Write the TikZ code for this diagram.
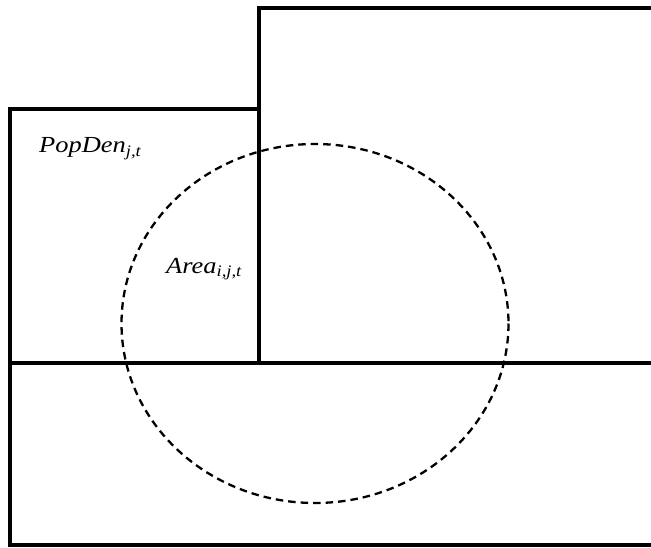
\documentclass[tikz,border=0pt]{standalone}
\usepackage{fontspec}
\setmainfont{Liberation Serif}
\begin{document}
\begin{tikzpicture}[x=1pt,y=-1pt,
  zone/.style={line width=4pt,line cap=rect},
  buffer/.style={line width=2.3pt,dash pattern=on 7.5pt off 5pt},
  lbl/.style={font=\fontsize{23}{26}\selectfont\itshape,inner sep=0pt,anchor=base west,xscale=1.15}]
\useasboundingbox (0,0) rectangle (651,548);
\clip (0,0) rectangle (651,548);
\draw[zone] (700,8) -- (259,8) -- (259,363);
\draw[zone] (259,109) -- (10,109) -- (10,545) -- (700,545);
\draw[zone] (10,363) -- (700,363);
\draw[buffer] (315,323.5) ellipse [x radius=193.5, y radius=179.5];
\node[lbl] (popden) at (39,153) {PopDen\textsubscript{j,t}};
\node[lbl] (area) at (166,273) {Area\textsubscript{i,j,t}};
\end{tikzpicture}
\end{document}
